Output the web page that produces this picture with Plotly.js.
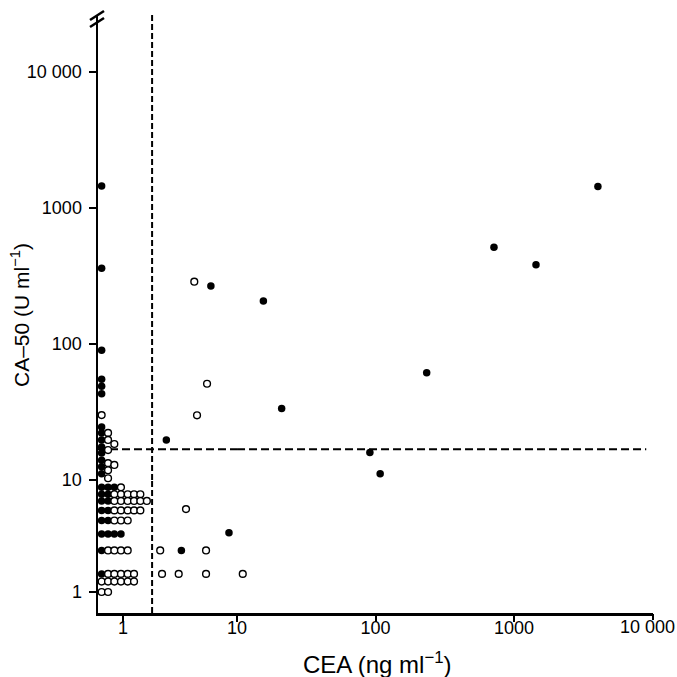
<!DOCTYPE html>
<html><head><meta charset="utf-8">
<script src="https://cdn.plot.ly/plotly-3.0.1.min.js"></script>
<style>html,body{margin:0;padding:0;background:#fff}</style>
</head><body><div id="chart" style="width:677px;height:677px"></div>
<script>
// ---- data ----
const filledCEA = [0.65,0.65,0.65,0.65,0.65,0.65,
  0.65,0.65,0.65,0.65,0.65,0.65,0.65,0.65,
  0.65,0.74,0.84,
  0.65,0.74,
  0.65,0.74,
  0.65,0.74,
  0.65,0.74,
  0.65,0.74,0.84,0.96,
  0.65,
  0.65,
  2.4,5.9,15.5,21,91,108,234,716,1440,4030,8.5,3.25];
const filledCA50 = [1450,360,90,55,49,43,
  24.5,22.2,19.7,17.5,15.8,14,12.5,11.1,
  8.6,8.6,8.6,
  7.45,7.45,
  6.5,6.5,
  5.35,5.35,
  4.35,4.35,
  3.3,3.3,3.3,3.3,
  2.35,
  1.45,
  19.7,267,207,33.5,15.9,11.1,61.5,514,383,1440,3.38,2.35];
const openCEA = [0.65,
  0.74,0.74,0.74,0.74,0.74,0.74,
  0.84,0.84,
  0.96,
  0.84,0.96,1.1,1.25,1.42,
  0.84,0.96,1.1,1.25,1.42,1.62,
  0.84,0.96,1.1,1.25,1.42,
  0.84,0.96,1.1,
  0.74,0.84,0.96,1.1,
  0.74,0.84,0.96,1.1,1.25,
  0.65,0.74,0.84,0.96,1.1,1.25,
  0.65,0.74,
  4.22,5.46,4.46,3.57,2.12,5.35,2.2,3.08,5.35,11];
const openCA50 = [30,
  22.2,19.7,16.6,13.3,11.8,10.3,
  18.4,12.9,
  8.6,
  7.45,7.45,7.45,7.45,7.45,
  6.5,6.5,6.5,6.5,6.5,6.5,
  5.35,5.35,5.35,5.35,5.35,
  4.35,4.35,4.35,
  2.35,2.35,2.35,2.35,
  1.45,1.45,1.45,1.45,1.45,
  1.24,1.24,1.24,1.24,1.24,1.24,
  1.0,1.0,
  287,51,29.9,5.5,2.35,2.35,1.45,1.45,1.45,1.45];
const ceaCutoff = 1.8;      // vertical dashed line
const ca50Cutoff = 16.8;    // horizontal dashed line
const hLineEnd = 9000;      // right end of horizontal dashed line
const xTickVals = [1,10,100,1000,10000];
const xTickText = ['1','10','100','1000','10 000'];
const yTickVals = [1,10,100,1000,10000];
const yTickText = ['1','10','100','1000','10 000'];
const xTitle = 'CEA (ng ml<sup>\u22121</sup>)';
const yTitle = 'CA\u201350 (U ml<sup>\u22121</sup>)';

// ---- axis break (the drawn axes are compressed between 1 and 10) ----
const SPLIT = 10;
const xLowRange = [-0.219, 1], xHighRange = [1, 4.003];
const yLowRange = [-0.1875, 1], yHighRange = [1, 4.419];
const xSplitFrac = 0.2505, ySplitFrac = 0.2224;

function splitPoints(xs, ys) {
  const groups = {};
  xs.forEach((x, i) => {
    const y = ys[i];
    const xa = x < SPLIT ? 'x' : 'x2';
    const ya = y < SPLIT ? 'y' : 'y2';
    const k = xa + ya;
    if (!groups[k]) groups[k] = {xa, ya, x: [], y: []};
    groups[k].x.push(x); groups[k].y.push(y);
  });
  return Object.values(groups);
}

const traces = [];
const dashH = {color: '#000', width: 2, dash: '8px,4px'};
const dashV = {color: '#000', width: 2, dash: '6px,3px'};
// cutoff lines
const yLow = Math.pow(10, yLowRange[0]), yHigh = Math.pow(10, yHighRange[1]);
const xLow = Math.pow(10, xLowRange[0]);
traces.push({x: [ceaCutoff, ceaCutoff], y: [yLow, SPLIT], xaxis: 'x', yaxis: 'y', mode: 'lines', line: dashV, cliponaxis: false, hoverinfo: 'skip'});
traces.push({x: [ceaCutoff, ceaCutoff], y: [SPLIT, yHigh], xaxis: 'x', yaxis: 'y2', mode: 'lines', line: dashV, cliponaxis: false, hoverinfo: 'skip'});
traces.push({x: [xLow, SPLIT], y: [ca50Cutoff, ca50Cutoff], xaxis: 'x', yaxis: 'y2', mode: 'lines', line: dashH, cliponaxis: false, hoverinfo: 'skip'});
traces.push({x: [SPLIT, hLineEnd], y: [ca50Cutoff, ca50Cutoff], xaxis: 'x2', yaxis: 'y2', mode: 'lines', line: dashH, cliponaxis: false, hoverinfo: 'skip'});
// empty trace so the end-label axis is drawn
traces.push({x: [], y: [], xaxis: 'x3', yaxis: 'y', mode: 'markers', hoverinfo: 'skip'});

splitPoints(filledCEA, filledCA50).forEach(g => traces.push({
  x: g.x, y: g.y, xaxis: g.xa, yaxis: g.ya, mode: 'markers', cliponaxis: false,
  marker: {symbol: 'circle', size: 7.5, color: '#000', line: {width: 0}}
}));
splitPoints(openCEA, openCA50).forEach(g => traces.push({
  x: g.x, y: g.y, xaxis: g.xa, yaxis: g.ya, mode: 'markers', cliponaxis: false,
  marker: {symbol: 'circle', size: 6.8, color: '#fff', line: {width: 1.4, color: '#000'}}
}));

const FAM = 'Liberation Sans, Arial, Helvetica, sans-serif';
const tickFont = {family: FAM, size: 18, color: '#000'};
function axisBase(extra) {
  return Object.assign({
    type: 'log', showline: true, linewidth: 2.5, linecolor: '#000',
    ticks: 'outside', tickwidth: 2, tickcolor: '#000', showgrid: false, zeroline: false,
    tickfont: tickFont, fixedrange: true, tickmode: 'array'
  }, extra);
}
function pick(vals, texts, lo, hi) {
  const v = [], t = [];
  vals.forEach((x, i) => { const l = Math.log10(x); if (l >= lo - 1e-9 && l <= hi + 1e-9) { v.push(x); t.push(texts[i]); } });
  return {v, t};
}
const xl = pick(xTickVals, xTickText, xLowRange[0], xLowRange[1] - 0.01);
const xh = pick(xTickVals, xTickText, xHighRange[0], 3.5);
const xe = pick(xTickVals, xTickText, 3.5, xHighRange[1]);
const yl = pick(yTickVals, yTickText, yLowRange[0], yLowRange[1] - 0.01);
const yh = pick(yTickVals, yTickText, yHighRange[0], yHighRange[1]);

// paper helpers for decorations
const L = 98, R = 24, T = 15, B = 64, W = 677, H = 677;
const px = v => (v - L) / (W - L - R);
const py = v => (H - B - v) / (H - T - B);

const XSTAND = -9, YSTAND = 3;
const layout = {
  width: W, height: H,
  margin: {l: L, r: R, t: T, b: B, pad: 0},
  paper_bgcolor: '#fff', plot_bgcolor: '#fff',
  showlegend: false,
  font: {family: FAM, color: '#000'},
  xaxis: axisBase({domain: [0, xSplitFrac], range: xLowRange, anchor: 'y', ticklen: 6, tickvals: xl.v, ticktext: xl.t, ticklabelstandoff: XSTAND}),
  xaxis2: axisBase({domain: [xSplitFrac, 1], range: xHighRange, anchor: 'y', ticklen: 6, tickvals: xh.v, ticktext: xh.t, ticklabelstandoff: XSTAND}),
  xaxis3: axisBase({overlaying: 'x2', range: xHighRange, anchor: 'y', showline: false, ticklen: 6, tickvals: xe.v, ticktext: xe.t, ticklabelstandoff: XSTAND, ticklabelshift: -5}),
  yaxis: axisBase({domain: [0, ySplitFrac], range: yLowRange, anchor: 'x', ticklen: 7, tickvals: yl.v, ticktext: yl.t, ticklabelstandoff: YSTAND}),
  yaxis2: axisBase({domain: [ySplitFrac, 1], range: yHighRange, anchor: 'x', ticklen: 7, tickvals: yh.v, ticktext: yh.t, ticklabelstandoff: YSTAND}),
  annotations: [
    {text: xTitle, xref: 'paper', yref: 'paper', x: px(377), y: py(663), xanchor: 'center', yanchor: 'middle', showarrow: false,
     font: {size: 24, color: '#000', family: FAM}},
    {text: yTitle, xref: 'paper', yref: 'paper', x: px(20), y: py(315), xanchor: 'center', yanchor: 'middle', showarrow: false, textangle: -90,
     font: {size: 21, color: '#000', family: FAM}}
  ],
  shapes: [
    {type: 'line', xref: 'paper', yref: 'paper', x0: px(90), y0: py(20), x1: px(104), y1: py(11), line: {color: '#000', width: 2.5}},
    {type: 'line', xref: 'paper', yref: 'paper', x0: px(90), y0: py(27), x1: px(104), y1: py(18), line: {color: '#000', width: 2.5}}
  ]
};

Plotly.newPlot('chart', traces, layout, {staticPlot: true, displayModeBar: false});
</script></body></html>
